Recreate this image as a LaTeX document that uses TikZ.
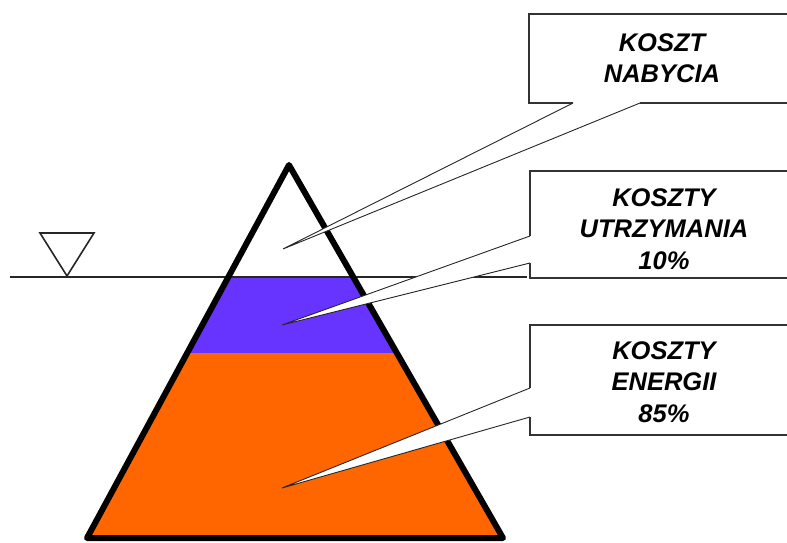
\documentclass[tikz,border=0pt]{standalone}
\usepackage{fontspec}
\setmainfont{Liberation Sans}
\usetikzlibrary{calc}
\definecolor{bandblue}{RGB}{102,51,255}
\definecolor{bandorange}{RGB}{255,102,0}
\tikzset{
  callout/.style={draw=black!80, line width=1.6pt, fill=white, line join=miter},
  wedge/.style={draw=black!85, line width=0.9pt, fill=white},
  label/.style={align=center, font=\fontsize{25.5}{31.5}\selectfont\bfseries\itshape, inner sep=0pt},
  outline/.style={draw=black, line width=6pt, line join=round},
  water/.style={draw=black!85, line width=1.6pt}
}
\begin{document}
\begin{tikzpicture}[x=1pt,y=-1pt]
\useasboundingbox (0,0) rectangle (787,543);
\clip (0,0) rectangle (787,543);
% pyramid geometry
\coordinate (apex) at (289,165);
\coordinate (bl) at (87,538);
\coordinate (br) at (503,538);
\coordinate (wl) at ($(apex)!113/373!(bl)$);
\coordinate (wr) at ($(apex)!113/373!(br)$);
\coordinate (ml) at ($(apex)!188/373!(bl)$);
\coordinate (mr) at ($(apex)!188/373!(br)$);
% bands
\fill[bandblue] (wl) -- (wr) -- (mr) -- (ml) -- cycle;
\fill[bandorange] (ml) -- (mr) -- (br) -- (bl) -- cycle;
% water line and symbol
\coordinate (w0) at (10,277);
\coordinate (w1) at (527,277);
\draw[water] (w0) -- (w1);
\coordinate (s1) at (40,233);
\coordinate (s2) at (94,233);
\coordinate (s3) at (67,276);
\draw[water, line join=miter] (s1) -- (s2) -- (s3) -- cycle;
% pyramid outline
\draw[outline] (apex) -- (br) -- (bl) -- cycle;
% callout 1
\coordinate (t1) at (283,249);
\draw[callout] (573,103) -- (529,103) -- (529,14) -- (800,14) -- (800,103) -- (640,103);
\filldraw[wedge] (573,103) -- (t1) -- (640,103);
\fill[white] (574,98) rectangle (639,102.5);
\node[label] (n1) at (662,58) {KOSZT\\NABYCIA};
% callout 2
\coordinate (t2) at (282,325);
\draw[callout] (530,236) -- (530,171) -- (800,171) -- (800,278) -- (530,278) -- (530,263);
\filldraw[wedge] (530,236) -- (t2) -- (530,263);
\fill[white] (530.5,237) rectangle (535,262);
\node[label] (n2) at (664,229) {KOSZTY\\UTRZYMANIA\\10\%};
% callout 3
\coordinate (t3) at (282,488);
\draw[callout] (530,388) -- (530,325) -- (800,325) -- (800,435) -- (530,435) -- (530,417);
\filldraw[wedge] (530,388) -- (t3) -- (530,417);
\fill[white] (530.5,389) rectangle (535,416);
\node[label] (n3) at (664,382) {KOSZTY\\ENERGII\\85\%};
\end{tikzpicture}
\end{document}
